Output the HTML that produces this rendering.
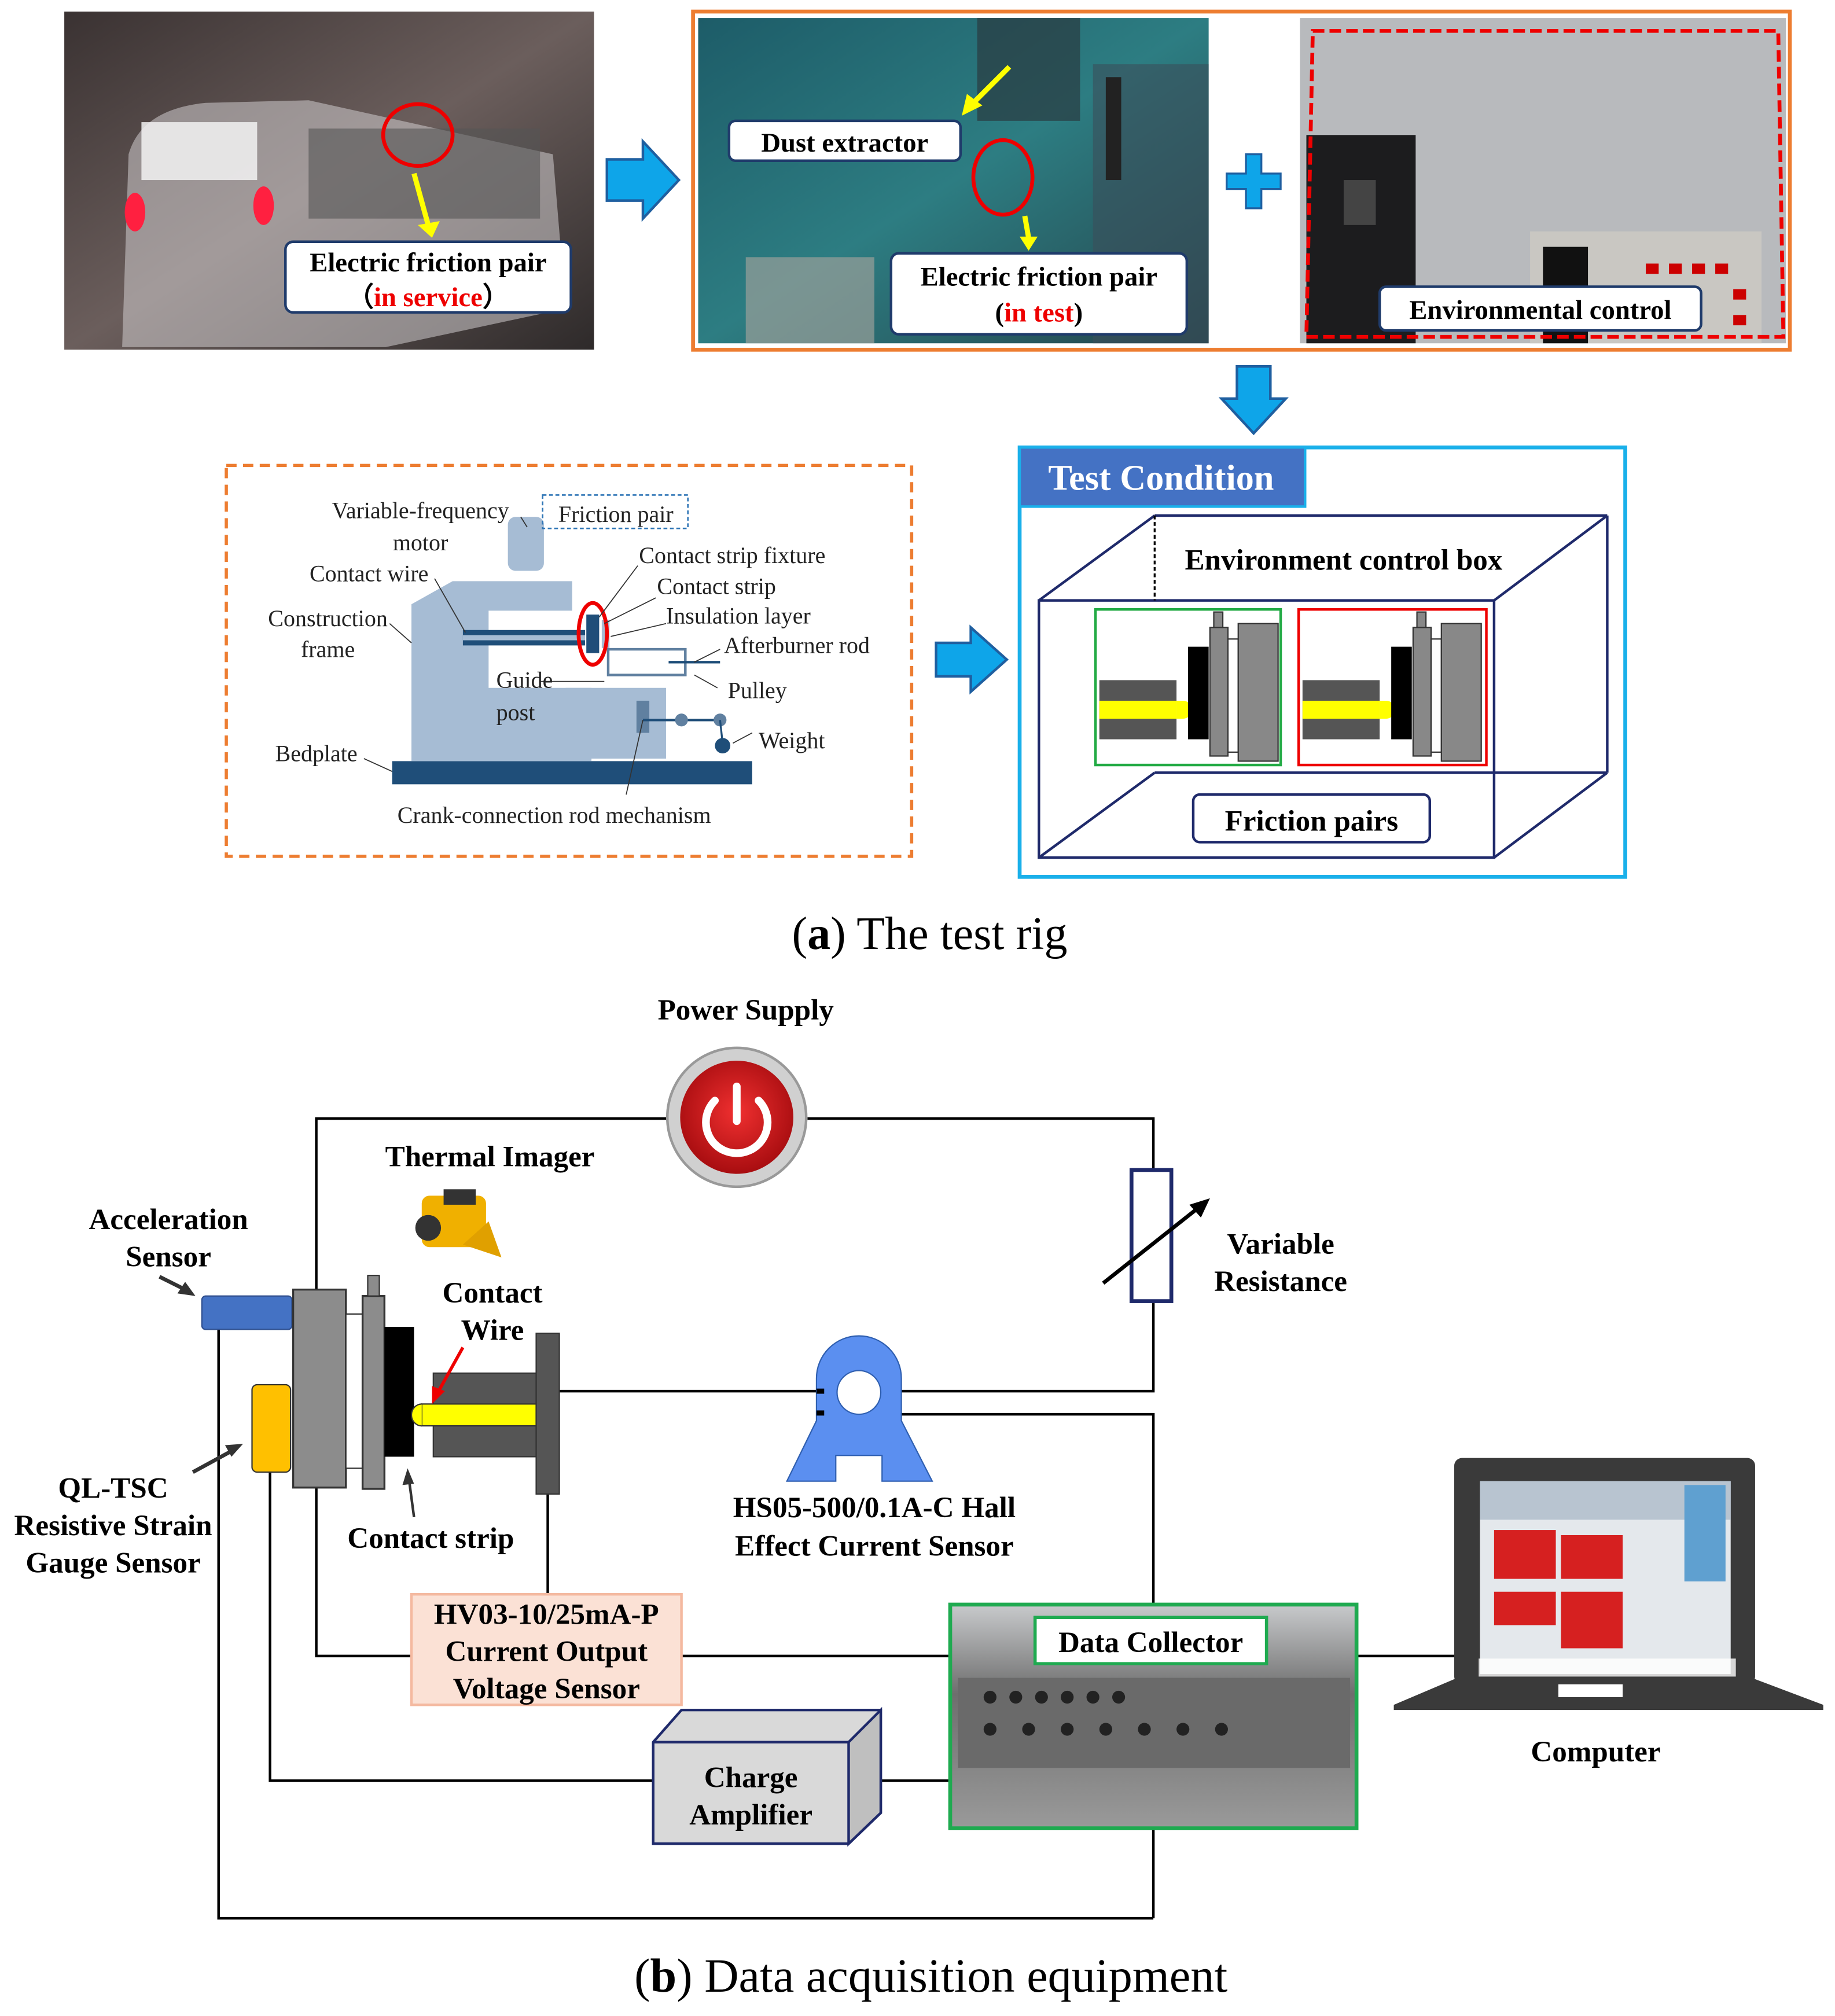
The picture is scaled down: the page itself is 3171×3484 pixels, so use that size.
<!DOCTYPE html>
<html><head><meta charset="utf-8"><style>
html,body{margin:0;padding:0;background:#fff}
svg{display:block}
text{font-family:"Liberation Serif",serif}
.b{font-weight:bold}
</style></head><body>
<svg width="3171" height="3484" viewBox="0 0 1427 1568" preserveAspectRatio="xMinYMin meet" xmlns="http://www.w3.org/2000/svg">
<rect width="1427" height="1568" fill="#fff"/>
<defs>
<linearGradient id="tr" x1="0" y1="0" x2="1" y2="1"><stop offset="0" stop-color="#3a3232"/><stop offset="0.5" stop-color="#6b5e5c"/><stop offset="1" stop-color="#2e2a2a"/></linearGradient>
<linearGradient id="lab" x1="0" y1="0" x2="1" y2="1"><stop offset="0" stop-color="#1d5c68"/><stop offset="0.5" stop-color="#2d7d82"/><stop offset="1" stop-color="#24434a"/></linearGradient>
<radialGradient id="pw" cx="0.5" cy="0.45" r="0.55"><stop offset="0" stop-color="#f03030"/><stop offset="1" stop-color="#a80d10"/></radialGradient>
<linearGradient id="dc" x1="0" y1="0" x2="0" y2="1"><stop offset="0" stop-color="#c8cacc"/><stop offset="0.4" stop-color="#6e6e6e"/><stop offset="1" stop-color="#9a9a9a"/></linearGradient>
</defs>

<rect x="50" y="9" width="412" height="263" fill="url(#tr)"/>
<path d="M95,270 L100,120 Q110,85 160,80 L240,78 L430,120 L440,240 L300,270 Z" fill="#cfcccd" opacity="0.55"/>
<rect x="110" y="95" width="90" height="45" fill="#f2f2f2" opacity="0.85"/>
<rect x="240" y="100" width="180" height="70" fill="#555" opacity="0.6"/>
<ellipse cx="105" cy="165" rx="8" ry="15" fill="#ff2040"/><ellipse cx="205" cy="160" rx="8" ry="15" fill="#ff2040"/>
<ellipse cx="325" cy="105" rx="27" ry="24" fill="none" stroke="#e00" stroke-width="3"/>
<line x1="322" y1="135" x2="333" y2="175" stroke="#ff0" stroke-width="4"/>
<polygon points="325,175 342,172 336,185" fill="#ff0"/>
<rect x="222" y="188" width="222" height="55" rx="6" fill="#fff" stroke="#1f3b6b" stroke-width="2"/>
<text x="333" y="211" font-size="21" text-anchor="middle" class="b">Electric friction pair</text>
<text x="333" y="238" font-size="21" text-anchor="middle" class="b">（<tspan fill="#e00">in service</tspan>）</text>

<polygon points="472,124 500,124 500,110 528,140 500,170 500,156 472,156" fill="#0ea5e9" stroke="#1f5fa0" stroke-width="2"/>

<rect x="539" y="9" width="853" height="263" fill="none" stroke="#ed7d31" stroke-width="3"/>
<rect x="543" y="14" width="397" height="253" fill="url(#lab)"/>
<rect x="760" y="14" width="80" height="80" fill="#2a3a40" opacity="0.7"/>
<rect x="850" y="50" width="90" height="217" fill="#3a4e5a" opacity="0.6"/>
<rect x="860" y="60" width="12" height="80" fill="#222"/>
<rect x="580" y="200" width="100" height="67" fill="#9aa09a" opacity="0.7"/>
<ellipse cx="780" cy="138" rx="23" ry="29" fill="none" stroke="#e00" stroke-width="3"/>
<line x1="785" y1="52" x2="755" y2="82" stroke="#ff0" stroke-width="4"/>
<polygon points="748,90 752,73 764,82" fill="#ff0"/>
<line x1="797" y1="168" x2="800" y2="185" stroke="#ff0" stroke-width="4"/>
<polygon points="793,184 807,184 800,195" fill="#ff0"/>
<rect x="567" y="94" width="180" height="31" rx="5" fill="#fff" stroke="#1f3b6b" stroke-width="2"/>
<text x="657" y="118" font-size="21" text-anchor="middle" class="b">Dust extractor</text>
<rect x="693" y="197" width="230" height="63" rx="6" fill="#fff" stroke="#1f3b6b" stroke-width="2"/>
<text x="808" y="222" font-size="21" text-anchor="middle" class="b">Electric friction pair</text>
<text x="808" y="250" font-size="21" text-anchor="middle" class="b">(<tspan fill="#e00">in test</tspan>)</text>
<path d="M969,120 h12 v15 h15 v12 h-15 v15 h-12 v-15 h-15 v-12 h15z" fill="#0ea5e9" stroke="#1f5fa0" stroke-width="1.5"/>
<rect x="1011" y="14" width="378" height="253" fill="#b8babd"/>
<rect x="1016" y="105" width="85" height="162" fill="#1c1c1e"/>
<rect x="1045" y="140" width="25" height="35" fill="#444"/>
<rect x="1190" y="180" width="180" height="87" fill="#c9c7c2"/>
<rect x="1200" y="192" width="35" height="75" fill="#111"/>
<g fill="#c00"><rect x="1280" y="205" width="10" height="8"/><rect x="1298" y="205" width="10" height="8"/><rect x="1316" y="205" width="10" height="8"/><rect x="1334" y="205" width="10" height="8"/><rect x="1348" y="225" width="10" height="8"/><rect x="1348" y="245" width="10" height="8"/></g>
<polygon points="1021,24 1383,24 1387,262 1016,262" fill="none" stroke="#e00" stroke-width="3" stroke-dasharray="9,4"/>
<rect x="1073" y="223" width="250" height="34" rx="5" fill="#fff" stroke="#1f3b6b" stroke-width="2"/>
<text x="1198" y="248" font-size="21" text-anchor="middle" class="b">Environmental control</text>

<polygon points="962,285 988,285 988,310 1000,310 975,337 950,310 962,310" fill="#0ea5e9" stroke="#1f5fa0" stroke-width="2"/>

<rect x="176" y="362" width="533" height="304" fill="none" stroke="#ed7d31" stroke-width="2.5" stroke-dasharray="8,5"/>
<rect x="305" y="592" width="280" height="18" fill="#1f4e79"/>
<path d="M320,592 V470 L352,452 H445 V475 H380 V535 H460 V592 Z" fill="#a6bcd4"/>
<polygon points="440,535 518,535 518,590 460,590 440,565" fill="#a6bcd4"/>
<rect x="395" y="402" width="28" height="42" rx="6" fill="#a6bcd4"/>
<rect x="360" y="490" width="95" height="12" fill="#1f4e79"/><rect x="360" y="494" width="95" height="4" fill="#a6bcd4"/>
<rect x="456" y="478" width="10" height="30" fill="#1f4e79"/>
<rect x="468" y="482" width="6" height="22" fill="#a6bcd4"/>
<rect x="473" y="505" width="60" height="20" fill="none" stroke="#6080a0" stroke-width="2"/>
<line x1="520" y1="515" x2="560" y2="515" stroke="#1f4e79" stroke-width="2"/>
<rect x="495" y="545" width="10" height="25" fill="#6080a0"/>
<line x1="500" y1="560" x2="560" y2="560" stroke="#1f4e79" stroke-width="2"/>
<circle cx="530" cy="560" r="5" fill="#6080a0"/><circle cx="560" cy="560" r="5" fill="#6080a0"/>
<line x1="560" y1="560" x2="562" y2="578" stroke="#1f4e79" stroke-width="1.5"/>
<circle cx="562" cy="580" r="6" fill="#1f4e79"/>
<ellipse cx="461" cy="493" rx="11" ry="24" fill="none" stroke="#e00" stroke-width="3"/>
<g stroke="#333" stroke-width="0.8" fill="none">
<line x1="405" y1="402" x2="410" y2="410"/><line x1="338" y1="450" x2="362" y2="492"/><line x1="303" y1="485" x2="320" y2="500"/>
<line x1="496" y1="440" x2="466" y2="480"/><line x1="510" y1="465" x2="470" y2="485"/><line x1="518" y1="485" x2="475" y2="495"/>
<line x1="560" y1="505" x2="540" y2="515"/><line x1="558" y1="535" x2="540" y2="525"/><line x1="585" y1="570" x2="570" y2="578"/>
<line x1="283" y1="590" x2="305" y2="600"/><line x1="487" y1="618" x2="500" y2="560"/><line x1="420" y1="530" x2="470" y2="530"/>
</g>
<rect x="422" y="385" width="113" height="26" fill="none" stroke="#2e75b6" stroke-width="1.2" stroke-dasharray="3,2"/>
<g font-size="18" fill="#222">
<text x="327" y="403" text-anchor="middle">Variable-frequency</text>
<text x="327" y="428" text-anchor="middle">motor</text>
<text x="479" y="406" text-anchor="middle">Friction pair</text>
<text x="287" y="452" text-anchor="middle">Contact wire</text>
<text x="255" y="487" text-anchor="middle">Construction</text>
<text x="255" y="511" text-anchor="middle">frame</text>
<text x="497" y="438">Contact strip fixture</text>
<text x="511" y="462">Contact strip</text>
<text x="518" y="485">Insulation layer</text>
<text x="563" y="508">Afterburner rod</text>
<text x="386" y="535">Guide</text>
<text x="386" y="560">post</text>
<text x="566" y="543">Pulley</text>
<text x="590" y="582">Weight</text>
<text x="246" y="592" text-anchor="middle">Bedplate</text>
<text x="431" y="640" text-anchor="middle">Crank-connection rod mechanism</text>
</g>

<polygon points="728,500 755,500 755,488 783,513 755,538 755,526 728,526" fill="#0ea5e9" stroke="#1f5fa0" stroke-width="2"/>

<rect x="793" y="348" width="471" height="334" fill="none" stroke="#1ab0ea" stroke-width="3"/>
<rect x="793" y="348" width="222" height="46" fill="#4472c4" stroke="#1ab0ea" stroke-width="2"/>
<text x="903" y="381" font-size="28" fill="#fff" text-anchor="middle" class="b">Test Condition</text>
<g stroke="#1f2a6b" stroke-width="2" fill="none">
<rect x="808" y="467" width="354" height="200"/>
<line x1="808" y1="467" x2="898" y2="401"/><line x1="898" y1="401" x2="1250" y2="401"/>
<line x1="1162" y1="467" x2="1250" y2="401"/><line x1="1250" y1="401" x2="1250" y2="601"/>
<line x1="1162" y1="667" x2="1250" y2="601"/><line x1="808" y1="667" x2="898" y2="601"/><line x1="898" y1="601" x2="1250" y2="601"/>
</g>
<line x1="898" y1="401" x2="898" y2="467" stroke="#000" stroke-width="1.5" stroke-dasharray="3,2"/>
<text x="1045" y="443" font-size="23" text-anchor="middle" class="b">Environment control box</text>
<g>
<rect x="852" y="474" width="144" height="121" fill="#fff" stroke="#22aa44" stroke-width="2"/>
<rect x="855" y="529" width="60" height="46" fill="#555"/>
<rect x="855" y="545" width="60" height="14" fill="#ff0"/><path d="M915,545 h5 a7,7 0 0 1 0,14 h-5z" fill="#ff0"/>
<rect x="924" y="503" width="16" height="72" fill="#000"/>
<rect x="941" y="488" width="14" height="100" fill="#888" stroke="#333"/><rect x="944" y="476" width="7" height="12" fill="#888" stroke="#333"/>
<rect x="955" y="497" width="8" height="88" fill="#fff" stroke="#333"/>
<rect x="963" y="485" width="31" height="107" fill="#888" stroke="#333"/>
</g>
<g>
<rect x="1010" y="474" width="146" height="121" fill="#fff" stroke="#e00" stroke-width="2"/>
<rect x="1013" y="529" width="60" height="46" fill="#555"/>
<rect x="1013" y="545" width="60" height="14" fill="#ff0"/><path d="M1073,545 h5 a7,7 0 0 1 0,14 h-5z" fill="#ff0"/>
<rect x="1082" y="503" width="16" height="72" fill="#000"/>
<rect x="1099" y="488" width="14" height="100" fill="#888" stroke="#333"/><rect x="1102" y="476" width="7" height="12" fill="#888" stroke="#333"/>
<rect x="1113" y="497" width="8" height="88" fill="#fff" stroke="#333"/>
<rect x="1121" y="485" width="31" height="107" fill="#888" stroke="#333"/>
</g>
<rect x="928" y="618" width="184" height="37" rx="5" fill="#fff" stroke="#1f2a6b" stroke-width="2"/>
<text x="1020" y="646" font-size="23" text-anchor="middle" class="b">Friction pairs</text>

<text x="723" y="738" font-size="36" text-anchor="middle">(<tspan class="b">a</tspan>) The test rig</text>

<g stroke="#000" stroke-width="2" fill="none">
<polyline points="520,870 246,870 246,1003"/>
<polyline points="628,870 897,870 897,910"/>
<polyline points="897,1012 897,1082 700,1082"/>
<line x1="435" y1="1082" x2="635" y2="1082"/>
<polyline points="700,1100 897,1100 897,1248"/>
<line x1="897" y1="1422" x2="897" y2="1492"/>
<polyline points="170,1034 170,1492 897,1492"/>
<polyline points="210,1145 210,1385 508,1385"/>
<line x1="685" y1="1385" x2="738" y2="1385"/>
<polyline points="246,1157 246,1288 320,1288"/>
<line x1="530" y1="1288" x2="738" y2="1288"/>
<line x1="426" y1="1162" x2="426" y2="1240"/>
<line x1="1055" y1="1288" x2="1132" y2="1288"/>
</g>
<text x="580" y="793" font-size="23" text-anchor="middle" class="b">Power Supply</text>
<circle cx="573" cy="869" r="54" fill="#d0d0d0" stroke="#999" stroke-width="2"/>
<circle cx="573" cy="869" r="44" fill="url(#pw)"/>
<path d="M556,856 a24,24 0 1 0 34,0" fill="none" stroke="#fff" stroke-width="6" stroke-linecap="round"/>
<line x1="573" y1="845" x2="573" y2="872" stroke="#fff" stroke-width="6" stroke-linecap="round"/>

<rect x="880" y="910" width="31" height="102" fill="#fff" stroke="#1f2a6b" stroke-width="3"/>
<line x1="858" y1="998" x2="935" y2="937" stroke="#000" stroke-width="3"/>
<polygon points="941,932 925,937 934,947" fill="#000"/>
<text x="996" y="975" font-size="23" text-anchor="middle" class="b">Variable</text>
<text x="996" y="1004" font-size="23" text-anchor="middle" class="b">Resistance</text>

<text x="381" y="907" font-size="23" text-anchor="middle" class="b">Thermal Imager</text>
<rect x="328" y="930" width="50" height="40" rx="6" fill="#f0b000"/>
<circle cx="333" cy="955" r="10" fill="#333"/><rect x="345" y="925" width="25" height="12" fill="#333"/>
<polygon points="360,968 390,978 380,950" fill="#e0a000"/>

<text x="131" y="956" font-size="23" text-anchor="middle" class="b">Acceleration</text>
<text x="131" y="985" font-size="23" text-anchor="middle" class="b">Sensor</text>
<line x1="124" y1="993" x2="148" y2="1005" stroke="#333" stroke-width="3"/>
<polygon points="152,1008 138,1006 144,997" fill="#333"/>
<rect x="157" y="1008" width="70" height="26" rx="3" fill="#4472c4" stroke="#2f4f8f"/>
<rect x="196" y="1077" width="30" height="68" rx="4" fill="#ffc000" stroke="#333"/>
<line x1="150" y1="1145" x2="183" y2="1127" stroke="#333" stroke-width="3"/>
<polygon points="189,1123 175,1124 180,1133" fill="#333"/>
<text x="88" y="1165" font-size="23" text-anchor="middle" class="b">QL-TSC</text>
<text x="88" y="1194" font-size="23" text-anchor="middle" class="b">Resistive Strain</text>
<text x="88" y="1223" font-size="23" text-anchor="middle" class="b">Gauge Sensor</text>

<rect x="228" y="1003" width="41" height="154" fill="#8c8c8c" stroke="#333" stroke-width="1.5"/>
<rect x="269" y="1022" width="13" height="120" fill="#fff" stroke="#333"/>
<rect x="282" y="1008" width="17" height="150" fill="#8c8c8c" stroke="#333" stroke-width="1.5"/>
<rect x="286" y="992" width="9" height="16" fill="#8c8c8c" stroke="#333"/>
<rect x="299" y="1032" width="23" height="101" fill="#000"/>
<rect x="337" y="1068" width="80" height="65" fill="#555" stroke="#333"/>
<rect x="328" y="1092" width="89" height="17" fill="#ff0" stroke="#333"/>
<path d="M328,1092 a8,8.5 0 0 0 0,17" fill="#ff0" stroke="#333"/>
<rect x="417" y="1037" width="18" height="125" fill="#555" stroke="#333"/>
<text x="383" y="1013" font-size="23" text-anchor="middle" class="b">Contact</text>
<text x="383" y="1042" font-size="23" text-anchor="middle" class="b">Wire</text>
<line x1="360" y1="1048" x2="340" y2="1084" stroke="#e00" stroke-width="2.5"/>
<polygon points="336,1092 336,1078 346,1082" fill="#e00"/>
<line x1="322" y1="1180" x2="318" y2="1150" stroke="#333" stroke-width="2"/>
<polygon points="317,1142 313,1155 322,1154" fill="#333"/>
<text x="335" y="1204" font-size="23" text-anchor="middle" class="b">Contact strip</text>

<path d="M612,1152 L635,1105 V1072 a31,31 0 0 1 66,0 V1105 L725,1152 H686 V1132 H650 V1152 Z" fill="#5b8ff0" stroke="#2f5fb0"/>
<circle cx="668" cy="1083" r="17" fill="#fff" stroke="#2f5fb0"/>
<rect x="635" y="1080" width="6" height="4" fill="#000"/><rect x="635" y="1097" width="6" height="4" fill="#000"/>
<text x="680" y="1180" font-size="23" text-anchor="middle" class="b">HS05-500/0.1A-C Hall</text>
<text x="680" y="1210" font-size="23" text-anchor="middle" class="b">Effect Current Sensor</text>

<rect x="320" y="1240" width="210" height="86" fill="#fbe1d5" stroke="#f4b9a0" stroke-width="2"/>
<text x="425" y="1263" font-size="23" text-anchor="middle" class="b">HV03-10/25mA-P</text>
<text x="425" y="1292" font-size="23" text-anchor="middle" class="b">Current Output</text>
<text x="425" y="1321" font-size="23" text-anchor="middle" class="b">Voltage Sensor</text>

<polygon points="508,1355 530,1330 685,1330 685,1410 660,1434 508,1434" fill="#d9d9d9" stroke="#1f2a6b" stroke-width="2"/>
<polygon points="660,1355 685,1330 685,1410 660,1434" fill="#bfbfbf" stroke="#1f2a6b" stroke-width="2"/>
<line x1="508" y1="1355" x2="660" y2="1355" stroke="#1f2a6b" stroke-width="2"/>
<text x="584" y="1390" font-size="23" text-anchor="middle" class="b">Charge</text>
<text x="584" y="1419" font-size="23" text-anchor="middle" class="b">Amplifier</text>

<rect x="739" y="1248" width="316" height="174" fill="url(#dc)" stroke="#1faa50" stroke-width="3"/>
<rect x="745" y="1305" width="305" height="70" fill="#6a6a6a"/>
<g fill="#222"><circle cx="770" cy="1320" r="5"/><circle cx="790" cy="1320" r="5"/><circle cx="810" cy="1320" r="5"/><circle cx="830" cy="1320" r="5"/><circle cx="850" cy="1320" r="5"/><circle cx="870" cy="1320" r="5"/><circle cx="770" cy="1345" r="5"/><circle cx="800" cy="1345" r="5"/><circle cx="830" cy="1345" r="5"/><circle cx="860" cy="1345" r="5"/><circle cx="890" cy="1345" r="5"/><circle cx="920" cy="1345" r="5"/><circle cx="950" cy="1345" r="5"/></g>
<rect x="805" y="1258" width="180" height="36" fill="#fff" stroke="#1faa50" stroke-width="2.5"/>
<text x="895" y="1285" font-size="23" text-anchor="middle" class="b">Data Collector</text>

<rect x="1131" y="1134" width="234" height="176" rx="6" fill="#3a3a3a"/>
<rect x="1151" y="1152" width="195" height="150" fill="#e4e8ec"/>
<rect x="1151" y="1152" width="195" height="30" fill="#b8c4d0"/>
<rect x="1162" y="1190" width="48" height="38" fill="#d62020"/><rect x="1214" y="1194" width="48" height="34" fill="#d62020"/>
<rect x="1162" y="1238" width="48" height="26" fill="#d62020"/><rect x="1214" y="1238" width="48" height="44" fill="#d62020"/>
<rect x="1310" y="1155" width="32" height="75" fill="#5fa0d0"/>
<polygon points="1131,1306 1365,1306 1418,1326 1418,1330 1084,1330 1084,1326" fill="#3a3a3a"/>
<rect x="1150" y="1290" width="200" height="14" fill="#fff" opacity="0.8"/>
<rect x="1212" y="1310" width="50" height="10" fill="#fff"/>
<text x="1241" y="1370" font-size="23" text-anchor="middle" class="b">Computer</text>

<text x="724" y="1549" font-size="37" text-anchor="middle">(<tspan class="b">b</tspan>) Data acquisition equipment</text>
</svg>
</body></html>
